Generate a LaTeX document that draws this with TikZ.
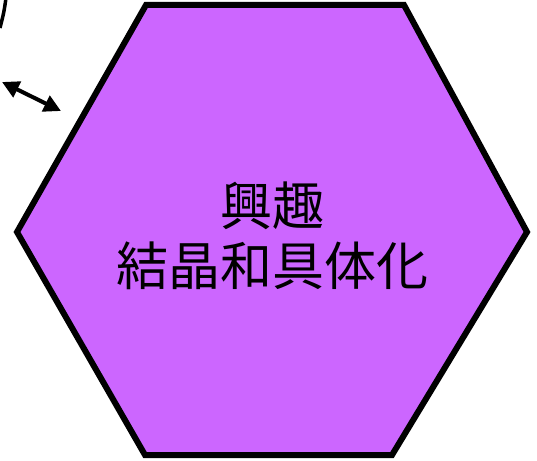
\documentclass[tikz,border=0pt]{standalone}
\usepackage{fontspec}
\newfontfamily\cjk{Noto Sans CJK JP}
\usetikzlibrary{arrows.meta}
\definecolor{hexfill}{RGB}{204,102,255}
\tikzset{
  hexedge/.style={draw=black,line width=6pt,fill=hexfill,line join=miter},
  link/.style={line width=4pt,{Triangle[length=17pt,width=17pt]}-{Triangle[length=17pt,width=17pt]}},
  arcline/.style={line width=3.5pt},
  label/.style={font=\cjk\fontsize{52}{60}\selectfont,align=center,text=black}
}
\begin{document}
\begin{tikzpicture}[x=1pt,y=-1pt]
\useasboundingbox (0,0) rectangle (537,460);
\draw[hexedge] (146,5) -- (404,5) -- (527,232) -- (392,455) -- (145,455) -- (17,232) -- cycle;
\coordinate (hexcenter) at (272,232);
\node[label] (txt) at (272,236) {興趣\\結晶和具体化};
\coordinate (a1) at (2,82);
\coordinate (a2) at (61,111);
\draw[link] (a1) -- (a2);
\coordinate (c1) at (6,-2);
\coordinate (c2) at (0,28);
\draw[arcline] (c1) .. controls (4,12) .. (c2);
\end{tikzpicture}
\end{document}
